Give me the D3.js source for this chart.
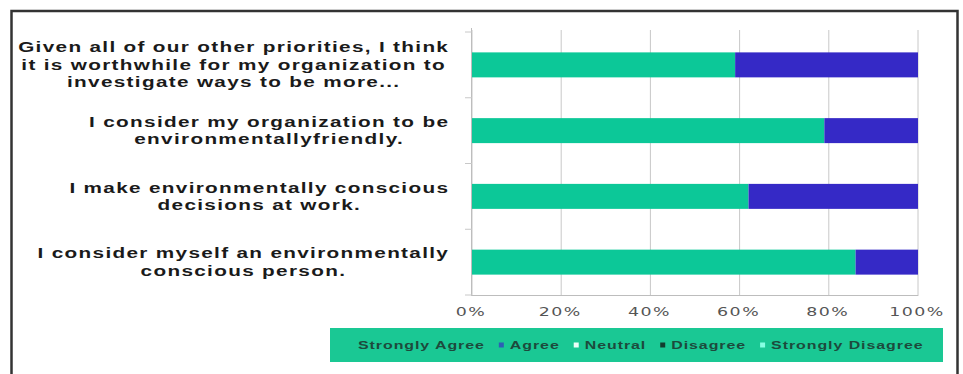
<!DOCTYPE html>
<html>
<head>
<meta charset="utf-8">
<script src="https://cdn.jsdelivr.net/npm/d3@7"></script>
<style>
  html, body { margin: 0; padding: 0; background: #fff; }
  svg { display: block; }
</style>
</head>
<body>
<svg id="chart" width="963" height="374"></svg>
<script>
// Survey statements (as wrapped on the chart)
const categoryLines = [
  ["Given all of our other priorities, I think", "it is worthwhile for my organization to", "investigate ways to be more..."],
  ["I consider my organization to be", "environmentallyfriendly."],
  ["I make environmentally conscious", "decisions at work."],
  ["I consider myself an environmentally", "conscious person."]
];

// Response shares, percent of respondents
const stronglyAgree    = [59, 79, 62, 86];
const agree            = [41, 21, 38, 14];
const neutral          = [0, 0, 0, 0];
const disagree         = [0, 0, 0, 0];
const stronglyDisagree = [0, 0, 0, 0];

const seriesNames = ["Strongly Agree", "Agree", "Neutral", "Disagree", "Strongly Disagree"];
const seriesColors = ["#0cc898", "#3529c6", "#e9fff8", "#123c2e", "#86ffe2"];
const legendMarkerColors = ["#1ac894", "#2d5fb5", "#eafff8", "#123c2e", "#86ffe2"];

const tickValues = [0, 20, 40, 60, 80, 100];
const tickLabels = ["0%", "20%", "40%", "60%", "80%", "100%"];

const svg = d3.select("#chart");

// Outer frame
svg.append("rect")
  .attr("x", 11.5).attr("y", 11).attr("width", 946).attr("height", 380)
  .attr("fill", "none").attr("stroke", "#333").attr("stroke-width", 2.5);

const rows = categoryLines.map((lines, i) => ({
  key: "c" + i,
  lines,
  "Strongly Agree": stronglyAgree[i],
  "Agree": agree[i],
  "Neutral": neutral[i],
  "Disagree": disagree[i],
  "Strongly Disagree": stronglyDisagree[i]
}));

const x = d3.scaleLinear().domain([0, 100]).range([472, 918]);
const y = d3.scaleBand().domain(rows.map(d => d.key)).range([32, 295])
  .paddingInner(0.62).paddingOuter(0.31);
const color = d3.scaleOrdinal().domain(seriesNames).range(seriesColors);

// Vertical gridlines
svg.append("g").selectAll("line").data(tickValues).join("line")
  .attr("x1", d => x(d)).attr("x2", d => x(d))
  .attr("y1", 30).attr("y2", 296)
  .attr("stroke", "#c8c8c8").attr("stroke-width", 1);

// Bottom axis line
svg.append("line")
  .attr("x1", x(0)).attr("x2", x(100)).attr("y1", 295.5).attr("y2", 295.5)
  .attr("stroke", "#bdbdbd");

// Left axis with ticks between categories
const step = y.step();
const boundaries = d3.range(rows.length + 1).map(k => 32 + k * step);
svg.append("line")
  .attr("x1", x(0) - 0.5).attr("x2", x(0) - 0.5).attr("y1", 28).attr("y2", 296)
  .attr("stroke", "#bdbdbd");
svg.append("g").selectAll("line").data(boundaries).join("line")
  .attr("x1", x(0) - 7).attr("x2", x(0))
  .attr("y1", d => d).attr("y2", d => d)
  .attr("stroke", "#c8c8c8");

// Stacked bars
const stack = d3.stack().keys(seriesNames);
const layers = stack(rows);
svg.append("g").selectAll("g").data(layers).join("g")
  .attr("fill", d => color(d.key))
  .selectAll("rect").data(d => d).join("rect")
  .attr("x", d => x(d[0]))
  .attr("width", d => x(d[1]) - x(d[0]))
  .attr("y", d => y(d.data.key))
  .attr("height", y.bandwidth());

// X tick labels (wide, lightly spaced)
const tickStretch = 1.45, tickSpacing = 1.0;
svg.append("g").selectAll("text").data(tickValues).join("text")
  .attr("transform", d => `translate(${x(d) - 1},316) scale(${tickStretch},1)`)
  .attr("text-anchor", "middle")
  .attr("font-family", "DejaVu Sans, Verdana, sans-serif")
  .attr("font-size", 12)
  .attr("letter-spacing", tickSpacing)
  .attr("fill", "#555")
  .text((d, i) => tickLabels[i]);

// Category labels: each block right-aligned, lines centred within it
const labelRight = 448;
const lineGap = 17.5;
const labelStretch = 1.48, labelSpacing = 0.9;
rows.forEach(r => {
  const g = svg.append("g");
  const cy = y(r.key) + y.bandwidth() / 2;
  const n = r.lines.length;
  const texts = r.lines.map((line, i) => g.append("text")
    .attr("text-anchor", "middle")
    .attr("font-family", "Liberation Sans, Arial, sans-serif")
    .attr("font-weight", "bold")
    .attr("font-size", 14)
    .attr("letter-spacing", labelSpacing)
    .attr("fill", "#1a1a1a")
    .datum(cy - (n - 1) * lineGap / 2 + i * lineGap + 5)
    .text(line));
  const maxW = (d3.max(texts, t => t.node().getComputedTextLength()) - labelSpacing) * labelStretch;
  const cx = labelRight - maxW / 2 + labelSpacing * labelStretch / 2;
  texts.forEach(t => t.attr("transform", `translate(${cx},${t.datum()}) scale(${labelStretch},1)`));
});

// Legend
const legendBox = { x: 330, y: 328, w: 613, h: 34 };
svg.append("rect")
  .attr("x", legendBox.x).attr("y", legendBox.y)
  .attr("width", legendBox.w).attr("height", legendBox.h)
  .attr("fill", "#1ac894");
const legendStretch = 1.45;
let lx = 347;
const ly = 349;
seriesNames.forEach((name, i) => {
  svg.append("rect")
    .attr("x", lx).attr("y", ly - 6.5).attr("width", 5).attr("height", 5)
    .attr("fill", legendMarkerColors[i]);
  const t = svg.append("text")
    .attr("transform", `translate(${lx + 11},${ly}) scale(${legendStretch},1)`)
    .attr("font-family", "Liberation Sans, Arial, sans-serif")
    .attr("font-weight", "bold")
    .attr("font-size", 11)
    .attr("letter-spacing", 0.65)
    .attr("fill", "#1d4a3c")
    .text(name);
  lx += 11 + t.node().getComputedTextLength() * legendStretch + 14;
});
</script>
</body>
</html>
